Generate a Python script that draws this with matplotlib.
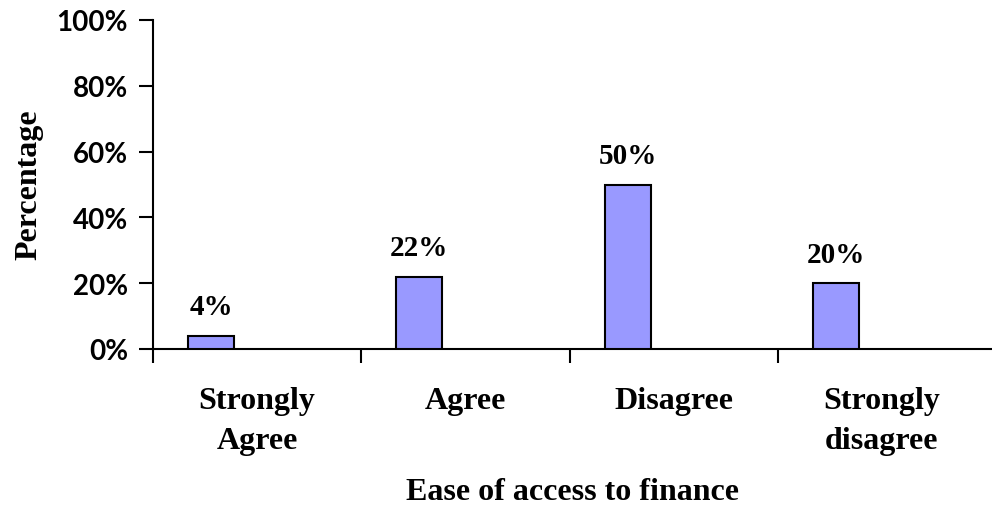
import numpy as np
import matplotlib.pyplot as plt

# Data
categories = ['Strongly\nAgree', 'Agree', 'Disagree', 'Strongly\ndisagree']
values = [4, 22, 50, 20]
y_ticks = [0, 20, 40, 60, 80, 100]

bar_color = '#9999FF'
serif = 'Liberation Serif'
sans = 'Lato'

fig = plt.figure(figsize=(9.92, 5.06), dpi=100)
ax = fig.add_axes([153 / 992, 156 / 506, 839 / 992, 329 / 506])

# bars sit in the first third of each category slot (Excel clustered style)
x = np.arange(len(categories))
bar_w = 0.222
bar_x = x - 0.5 + 0.279
ax.bar(bar_x, values, width=bar_w, color=bar_color, edgecolor='black', linewidth=1.5, zorder=3)

for bx, v in zip(bar_x, values):
    ax.annotate(f'{v}%', (bx, v), xytext=(0, 21), textcoords='offset points',
                ha='center', va='center', fontsize=21, fontweight='bold', family=serif)

ax.set_xlim(-0.5, 3.5 + 6 / 210)
ax.set_ylim(0, 100)

ax.set_yticks(y_ticks)
ax.set_yticklabels([f'{t}%' for t in y_ticks], fontsize=20, fontweight='bold', family=sans)

# category labels in the middle of slots, ticks at slot boundaries
ax.set_xticks(np.arange(0, 4) - 0.5)
ax.set_xticklabels([])
ax.set_xticks(x, minor=True)
ax.set_xticklabels(categories, minor=True, fontsize=23, fontweight='bold', family=serif,
                   linespacing=1.5)
ax.tick_params(axis='x', which='minor', length=0, pad=27)
ax.tick_params(axis='x', which='major', length=10, width=1.5, direction='out')
ax.tick_params(axis='y', length=10, width=1.5, direction='out', pad=8)

for s in ['top', 'right']:
    ax.spines[s].set_visible(False)
for s in ['left', 'bottom']:
    ax.spines[s].set_linewidth(1.5)

ax.set_ylabel('Percentage', fontsize=23, fontweight='bold', family=serif, va='center')
ax.yaxis.set_label_coords(-0.148, 0.5015)
ax.set_xlabel('Ease of access to finance', fontsize=23, fontweight='bold', family=serif, va='center')
ax.xaxis.set_label_coords(0.5, -0.434)

fig.savefig('out.png', dpi=100)
